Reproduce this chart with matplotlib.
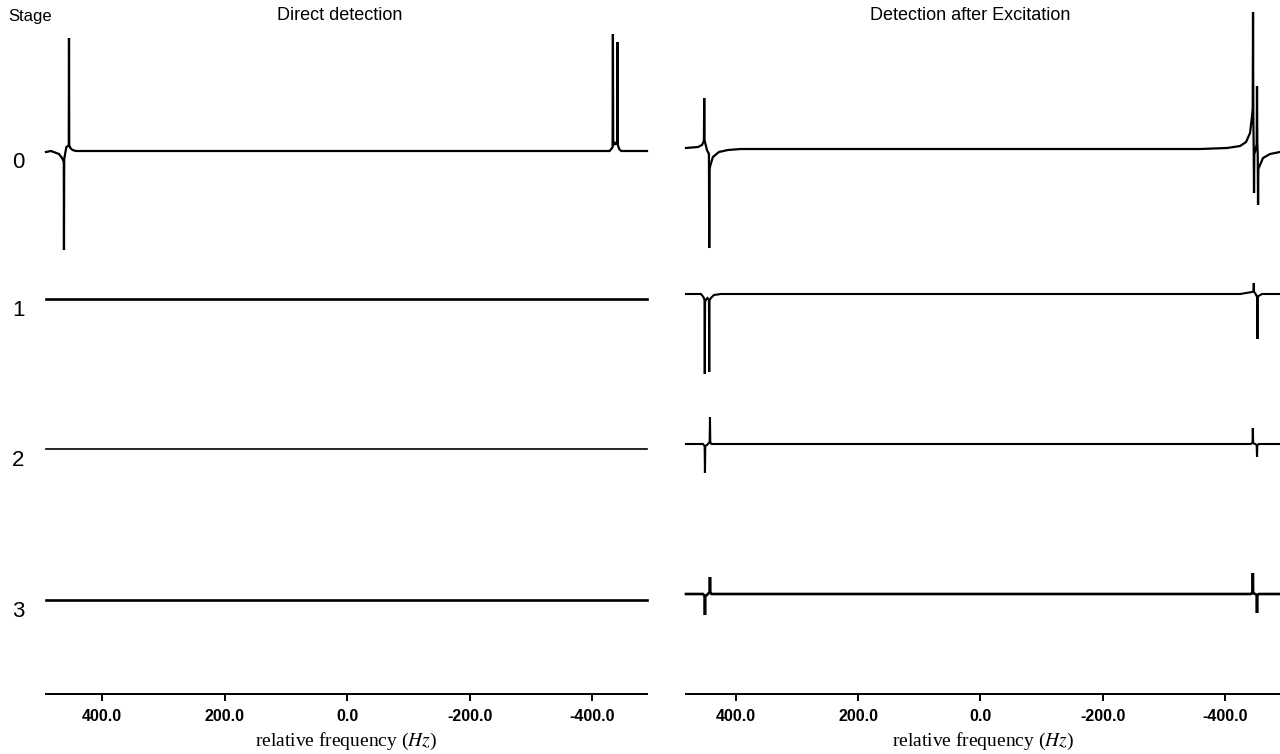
import numpy as np
import matplotlib.pyplot as plt
import matplotlib.transforms as mtransforms

plt.rcParams['font.family'] = ['Liberation Sans', 'DejaVu Sans']
plt.rcParams['mathtext.fontset'] = 'stix'

# spectra: frequency (Hz) and intensity (arb. units)
# Direct detection
direct_freq_0 = [491.2, 483.1, 470.0, 465.1, 462.7, 462.2, 461.9, 461.5, 458.0, 455.0,
                 454.1, 453.7, 453.3, 451.5, 448.0, 442.3, 434.2,
                 -428.0, -432.0, -432.9, -433.4, -433.9, -436.5, -437.4, -440.4, -440.9, -441.4, -443.6, -446.9, -489.0]
direct_int_0 = [-1, 0, -3, -7, -10, -12, -99, -8, 4, 5,
                6, 113, 6, 3, 1, 0, 0,
                0, 3, 4, 117, 6, 8, 7, 8, 109, 6, 2, 0, 0]
direct_freq_1 = [491.2, -489.0]
direct_int_1 = [0, 0]
direct_freq_2 = [491.2, -489.0]
direct_int_2 = [0, 0]
direct_freq_3 = [491.2, -489.0]
direct_int_3 = [0, 0]

# Detection after excitation
excit_freq_0 = [481.6, 462.0, 455.5, 453.1, 452.3, 451.8, 451.3, 449.8, 447.3, 444.1,
                443.6, 443.1, 441.6, 437.6, 427.8, 413.1, 391.8,
                -359.2, -403.3, -424.5, -434.3, -440.8, -443.3, -445.2, -445.7, -446.2, -446.8,
                -447.3, -447.8, -449.8, -451.7, -452.2, -452.7, -453.4, -453.9, -454.4, -457.1,
                -462.0, -473.5, -489.8]
excit_int_0 = [1, 2, 4, 7, 8, 51, 9, 5, -1, -5,
               -99, -20, -16, -8, -3, -1, 0,
               0, 1, 3, 7, 16, 29, 40, 137, 30, 0,
               -44, -5, -1, 5, 63, 5, -5, -56, -20, -16,
               -9, -5, -3]
excit_freq_1 = [481.6, 457.1, 453.1, 451.4, 450.9, 450.4, 448.2, 446.5, 444.1, 443.6,
                443.1, 440.8, 435.9, 424.5, -424.5, -444.1, -446.4, -446.9, -447.4, -449.0,
                -452.4, -452.9, -453.4, -454.7, -460.4, -489.8]
excit_int_1 = [0, 0, -3, -6, -80, -8, -5, -4, -6, -78,
               -6, -4, -1, 0, 0, 2, 3, 11, 2, 1,
               -3, -45, -3, -2, 0, 0]
excit_freq_2 = [481.6, 453.9, 451.1, 450.6, 450.1, 447.3, 442.9, 442.4, 441.9, 440.0,
                -441.6, -444.9, -445.4, -445.9, -449.0, -451.7, -452.2, -452.7, -455.5, -489.8]
excit_int_2 = [0, 0, -2, -29, -2, -1, 2, 27, 2, 0,
               0, 1, 16, 1, 0, -1, -13, -1, 0, 0]
excit_freq_3 = [481.6, 453.9, 451.1, 450.6, 450.1, 447.3, 442.9, 442.4, 441.9, 440.0,
                -441.6, -444.9, -445.4, -445.9, -449.0, -451.7, -452.2, -452.7, -455.5, -489.8]
excit_int_3 = [0, 0, -2, -21, -2, -1, 2, 17, 2, 0,
               0, 1, 21, 1, 0, -1, -19, -1, 0, 0]

stages = ['0', '1', '2', '3']
titles = ['Direct detection', 'Detection after Excitation']
xticks = [400, 200, 0, -200, -400]

direct = [(direct_freq_0, direct_int_0), (direct_freq_1, direct_int_1),
          (direct_freq_2, direct_int_2), (direct_freq_3, direct_int_3)]
excit = [(excit_freq_0, excit_int_0), (excit_freq_1, excit_int_1),
         (excit_freq_2, excit_int_2), (excit_freq_3, excit_int_3)]

W, H = 1280, 754
fig = plt.figure(figsize=(W / 100, H / 100), dpi=100)
ax1 = fig.add_axes([46 / W, 60 / H, 601 / W, 694 / H])
ax2 = fig.add_axes([686 / W, 60 / H, 594 / W, 694 / H])

# vertical offsets of the stacked traces (axis units = reference pixels)
offsets_left = [543, 395, 245, 94]
offsets_right = [545, 400, 250, 100]
widths_left = [1.6, 1.9, 1.2, 1.9]
widths_right = [1.6, 1.5, 1.5, 1.9]
title_x = [340, 970]

for ax, spectra, offs, lws, xlim, title, tx in [
        (ax1, direct, offsets_left, widths_left, (491.2, -489.0), titles[0], title_x[0]),
        (ax2, excit, offsets_right, widths_right, (481.6, -489.8), titles[1], title_x[1])]:
    for (f, y), off, lw in zip(spectra, offs, lws):
        ax.plot(f, np.array(y) + off, color='black', lw=lw, solid_joinstyle='miter', clip_on=False)
    ax.set_xlim(*xlim)
    ax.set_ylim(0, 694)
    for s in ['left', 'right', 'top']:
        ax.spines[s].set_visible(False)
    ax.spines['bottom'].set_linewidth(1.4)
    ax.set_yticks([])
    ax.set_xticks(xticks)
    ax.set_xticklabels([f'{t:.1f}' for t in xticks], fontsize=11.5, fontweight='bold')
    ax.tick_params(axis='x', length=5, width=1.4, pad=6)
    ax.set_xlabel(r'relative frequency ($Hz$)', family='Liberation Serif', fontsize=14, labelpad=5)
    ax.patch.set_visible(False)
    fig.text(tx / W, 1 - 16 / H, title, ha='center', va='center', fontsize=13)

# stage numbers on the left margin
trans = mtransforms.blended_transform_factory(fig.transFigure, ax1.transData)
for lab, off in zip(stages, offsets_left):
    fig.text(12 / W, off - 1, lab, transform=trans, ha='left', va='top', fontsize=16)
fig.text(8 / W, 1 - 16 / H, 'Stage', ha='left', va='center', fontsize=12)

fig.savefig('out.png', dpi=100)
